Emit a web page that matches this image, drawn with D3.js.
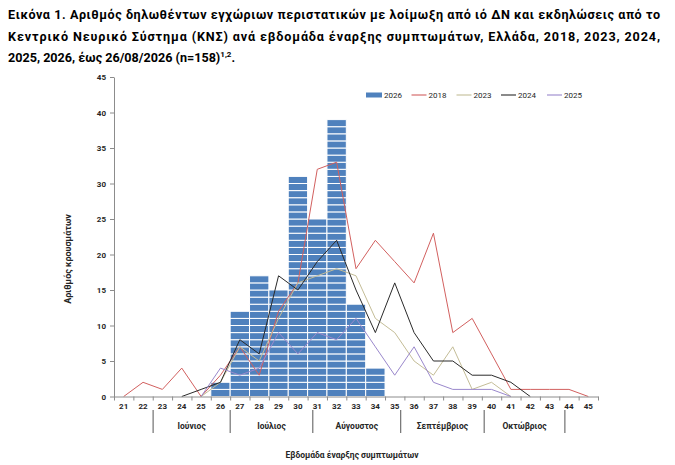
<!DOCTYPE html>
<html>
<head>
<meta charset="utf-8">
<script src="https://cdn.jsdelivr.net/npm/d3@7"></script>
<style>
body { margin: 0; background: #fff; }
svg { display: block; font-family: Roboto, "Liberation Sans", sans-serif; }
</style>
</head>
<body>
<svg id="chart" width="675" height="465"></svg>
<script>
// epi week of symptom onset
var weeks = [21, 22, 23, 24, 25, 26, 27, 28, 29, 30, 31, 32, 33, 34, 35, 36, 37, 38, 39, 40, 41, 42, 43, 44, 45];
var cases2026 = [0, 0, 0, 0, 0, 2, 12, 17, 15, 31, 25, 39, 13, 4, 0, 0, 0, 0, 0, 0, 0, 0, 0, 0, 0];
var cases2018 = [0, 2, 1, 4, 0, 3, 7, 3, 12, 16, 32, 33, 18, 22, 19, 16, 23, 9, 11, 6, 1, 1, 1, 1, 0];
var cases2023 = [null, null, null, null, 0, 2, 7, 5, 11, 16, 17, 18, 17, 11, 9, 5, 3, 7, 1, 2, 0, null, null, null, null];
var cases2024 = [null, null, null, 0, 1, 2, 8, 6, 17, 15, 19, 22, 15, 9, 16, 9, 5, 5, 3, 3, 2, 0, null, null, null];
var cases2025 = [null, null, null, null, 0, 4, 3, 4, 9, 6, 9, 8, 11, 7, 3, 7, 2, 1, 1, 1, 0, null, null, null, null];
var yTicks = [0, 5, 10, 15, 20, 25, 30, 35, 40, 45];
var months = ["Ιούνιος", "Ιούλιος", "Αύγουστος", "Σεπτέμβριος", "Οκτώβριος"];
var monthBreaks = [22.52, 26.5, 30.77, 35.31, 39.62, 43.79];

var lineSeries = [
	{ name: "2018", values: cases2018, color: "#d2605f" },
	{ name: "2023", values: cases2023, color: "#c4bd97" },
	{ name: "2024", values: cases2024, color: "#2a2a2a" },
	{ name: "2025", values: cases2025, color: "#9a88cc" }
];

var svg = d3.select("#chart");
var textCol = "#262626";

// title (justified lines in the source)
var title = svg.append("g")
	.attr("font-weight", "bold")
	.attr("font-size", "12.6px")
	.attr("fill", "#000");
title.append("text").attr("x", 8).attr("y", 19)
	.attr("textLength", 652).attr("lengthAdjust", "spacing")
	.text("Εικόνα 1. Αριθμός δηλωθέντων εγχώριων περιστατικών με λοίμωξη από ιό ΔΝ και εκδηλώσεις από το");
title.append("text").attr("x", 8).attr("y", 41)
	.attr("textLength", 652).attr("lengthAdjust", "spacing")
	.text("Κεντρικό Νευρικό Σύστημα (ΚΝΣ) ανά εβδομάδα έναρξης συμπτωμάτων, Ελλάδα, 2018, 2023, 2024,");
var t3 = title.append("text").attr("x", 8).attr("y", 62);
t3.append("tspan").text("2025, 2026, έως 26/08/2026 (n=158)");
t3.append("tspan").attr("font-size", "8px").attr("dy", -5).text("1,2");
t3.append("tspan").attr("dy", 5).text(".");

var x = d3.scaleBand().domain(weeks).range([114, 598]).padding(0);
var xLin = d3.scaleLinear().domain([20.5, 45.5]).range([114, 598]);
var y = d3.scaleLinear().domain([0, 45]).range([396.5, 77]);

// bars: one cell per case
var bars = svg.append("g");
weeks.forEach(function(w, i) {
	var n = cases2026[i];
	bars.selectAll(null)
		.data(d3.range(n))
		.enter().append("rect")
		.attr("x", x(w))
		.attr("width", x.bandwidth())
		.attr("y", function(k) { return y(k + 1); })
		.attr("height", function(k) { return y(k) - y(k + 1); })
		.attr("fill", "#4f81bd")
		.attr("stroke", "#fff")
		.attr("stroke-width", 1);
});

// lines
var line = d3.line()
	.defined(function(d) { return d.v != null; })
	.x(function(d) { return x(d.w) + x.bandwidth() / 2; })
	.y(function(d) { return y(d.v); });

lineSeries.forEach(function(s) {
	var pts = weeks.map(function(w, i) { return { w: w, v: s.values[i] }; });
	svg.append("path")
		.datum(pts)
		.attr("fill", "none")
		.attr("stroke", s.color)
		.attr("stroke-width", 1)
		.attr("d", line);
});

// y axis
var yAxis = svg.append("g")
	.attr("transform", "translate(114,0)")
	.call(d3.axisLeft(y).tickValues(yTicks).tickSize(4).tickSizeOuter(0).tickPadding(4));
yAxis.select(".domain").attr("stroke", "#8c8c8c");
yAxis.selectAll(".tick line").attr("stroke", "#8c8c8c");
yAxis.selectAll(".tick text")
	.attr("font-size", "8px").attr("font-weight", "bold").attr("fill", textCol)
	.attr("font-family", "Roboto, 'Liberation Sans', sans-serif");

// x axis: tick marks on week boundaries, labels at centres
var bounds = weeks.map(function(w) { return w - 0.5; }).concat([weeks[weeks.length - 1] + 0.5]);
var xTicks = svg.append("g")
	.attr("transform", "translate(0,396.5)")
	.call(d3.axisBottom(xLin).tickValues(bounds).tickSize(4).tickSizeOuter(0).tickFormat(""));
xTicks.select(".domain").attr("stroke", "#8c8c8c");
xTicks.selectAll(".tick line").attr("stroke", "#8c8c8c");

var xLabels = svg.append("g")
	.attr("transform", "translate(0,396.5)")
	.call(d3.axisBottom(x).tickSize(0).tickPadding(7));
xLabels.select(".domain").remove();
xLabels.selectAll(".tick text")
	.attr("font-size", "8px").attr("font-weight", "bold").attr("fill", textCol)
	.attr("font-family", "Roboto, 'Liberation Sans', sans-serif");

// month separators and names
svg.append("g").selectAll("line")
	.data(monthBreaks)
	.enter().append("line")
	.attr("x1", function(d) { return xLin(d); })
	.attr("x2", function(d) { return xLin(d); })
	.attr("y1", 410)
	.attr("y2", 433)
	.attr("stroke", "#555")
	.attr("stroke-width", 1);

svg.append("g").selectAll("text")
	.data(months)
	.enter().append("text")
	.attr("x", function(d, i) { return (xLin(monthBreaks[i]) + xLin(monthBreaks[i + 1])) / 2; })
	.attr("y", 429)
	.attr("text-anchor", "middle")
	.attr("font-size", "8.5px")
	.attr("font-weight", "bold")
	.attr("fill", textCol)
	.text(function(d) { return d; });

// axis titles
svg.append("text")
	.attr("x", 352).attr("y", 458)
	.attr("text-anchor", "middle")
	.attr("font-size", "8.5px").attr("font-weight", "bold").attr("fill", textCol)
	.text("Εβδομάδα έναρξης συμπτωμάτων");

svg.append("text")
	.attr("transform", "translate(71,259) rotate(-90)")
	.attr("text-anchor", "middle")
	.attr("font-size", "9px").attr("font-weight", "bold").attr("fill", textCol)
	.text("Αριθμός κρουσμάτων");

// legend
var legend = svg.append("g").attr("font-size", "8px").attr("fill", textCol);
legend.append("rect")
	.attr("x", 366).attr("y", 92.5).attr("width", 16).attr("height", 5)
	.attr("fill", "#4f81bd");
legend.append("text").attr("x", 384).attr("y", 98).text("2026");
var legX = [411.5, 456.5, 501, 547];
lineSeries.forEach(function(s, i) {
	legend.append("line")
		.attr("x1", legX[i]).attr("x2", legX[i] + 15)
		.attr("y1", 95).attr("y2", 95)
		.attr("stroke", s.color).attr("stroke-width", 1.1);
	legend.append("text").attr("x", legX[i] + 17).attr("y", 98).text(s.name);
});
</script>
</body>
</html>
